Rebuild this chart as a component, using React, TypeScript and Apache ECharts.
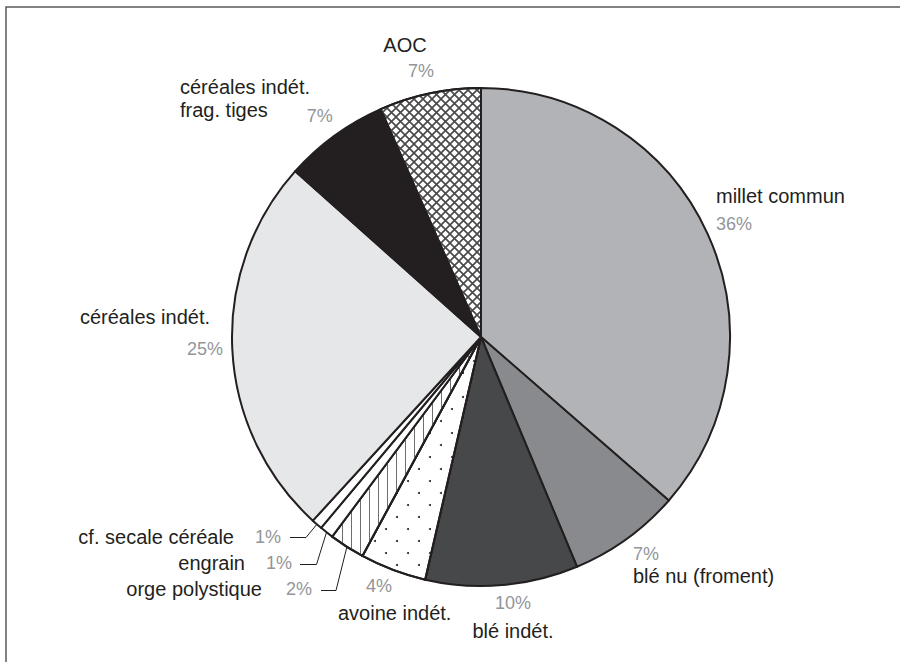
import React, { useEffect, useRef } from 'react';
import * as echarts from 'echarts';

// ---- data ----
const categories = [
  'millet commun',
  'blé nu (froment)',
  'blé indét.',
  'avoine indét.',
  'orge polystique',
  'engrain',
  'cf. secale céréale',
  'céréales indét.',
  'céréales indét.\nfrag. tiges',
  'AOC',
];
const values = [36.4, 7.3, 9.9, 4.3, 2.3, 0.9, 0.7, 24.8, 6.8, 6.6];

// ---- styles ----
const FILLS = ['#b1b3b6', '#898a8d', '#474849', '#ffffff', '#ffffff', '#ffffff', '#ffffff', '#e6e7e8', '#231f20', '#ffffff'];

const DOTS = {
  symbol: 'circle',
  symbolSize: 1,
  color: '#231f20',
  dashArrayX: [[2, 20], [0, 11, 2, 9]],
  dashArrayY: [2, 10],
  rotation: 0,
};
const VLINES = {
  symbol: 'rect',
  symbolSize: 1,
  color: '#6d6e71',
  dashArrayX: [1, 8],
  dashArrayY: [4, 0],
  rotation: 0,
};
const CROSS = {
  symbol: 'path://M0,0L1.1,0L8.4,7.3L8.4,8.4L7.3,8.4L0,1.1Z M7.3,0L8.4,0L8.4,1.1L1.1,8.4L0,8.4L0,7.3Z',
  symbolSize: 1,
  symbolKeepAspect: false,
  color: '#4a4a4c',
  dashArrayX: [8.4, 0],
  dashArrayY: [8.4, 0],
  rotation: 0,
};
const DECALS: any[] = [null, null, null, DOTS, VLINES, null, null, null, null, CROSS];

type Spec = {
  x: number; y: number; align: 'left' | 'right' | 'center';
  mode: 'nameFirst' | 'pctFirst' | 'inline' | 'inlineLast';
  lh: number; namePad?: number[]; pctPad?: number[]; line?: number[][];
};
const LABELS: Spec[] = [
  { x: 716, y: 210, align: 'left', mode: 'nameFirst', lh: 28 },
  { x: 633, y: 565, align: 'left', mode: 'pctFirst', lh: 22.5 },
  { x: 513, y: 617, align: 'center', mode: 'pctFirst', lh: 28 },
  { x: 338, y: 599.5, align: 'left', mode: 'pctFirst', lh: 27, pctPad: [0, 0, 0, 28] },
  { x: 312, y: 589, align: 'right', mode: 'inline', lh: 24, pctPad: [0, 0, 0, 24], line: [[336, 590.5], [321, 590.5]] },
  { x: 292, y: 563, align: 'right', mode: 'inline', lh: 24, pctPad: [0, 0, 0, 21], line: [[316.5, 564.5], [300, 564.5]] },
  { x: 281, y: 537, align: 'right', mode: 'inline', lh: 24, pctPad: [0, 0, 0, 21], line: [[306, 537.5], [290, 537.5]] },
  { x: 223, y: 333, align: 'right', mode: 'nameFirst', lh: 32, namePad: [0, 13, 0, 0] },
  { x: 180, y: 98.5, align: 'left', mode: 'inlineLast', lh: 23, pctPad: [12, 0, 0, 39] },
  { x: 405, y: 58, align: 'center', mode: 'nameFirst', lh: 26, pctPad: [0, 0, 0, 32] },
];

const NAME_FONT = '"Liberation Sans", Arial, sans-serif';
const PCT_FONT = '"Liberation Sans", Arial, sans-serif';
const CX = 481;
const CY = 337;
const R = 249;

function buildFormatter(spec: Spec) {
  return (p: any) => {
    const pct = `{p|${Math.round(p.percent)}%}`;
    const nameLines = String(p.name).split('\n').map((s) => `{n|${s}}`);
    switch (spec.mode) {
      case 'nameFirst':
        return nameLines.join('\n') + '\n' + pct;
      case 'pctFirst':
        return pct + '\n' + nameLines.join('\n');
      case 'inline':
      case 'inlineLast':
      default:
        return nameLines.join('\n') + pct;
    }
  };
}

export default function App() {
  const ref = useRef<HTMLDivElement>(null);
  useEffect(() => {
    if (!ref.current) return;
    const chart = echarts.init(ref.current, undefined, { renderer: 'svg' });
    const data = categories.map((name, i) => {
      const spec = LABELS[i];
      const item: any = {
        name,
        value: values[i],
        itemStyle: { color: FILLS[i] },
        label: {
          formatter: buildFormatter(spec),
          rich: {
            n: {
              fontFamily: NAME_FONT,
              fontSize: 20,
              color: '#231f20',
              lineHeight: spec.lh,
              padding: spec.namePad || [0, 0, 0, 0],
            },
            p: {
              fontFamily: PCT_FONT,
              fontSize: 18,
              color: '#939598',
              lineHeight: spec.lh,
              padding: spec.pctPad || [0, 0, 0, 0],
            },
          },
        },
        labelLine: spec.line
          ? { show: true, length: 10, length2: 10, smooth: false, lineStyle: { color: '#231f20', width: 1 } }
          : { show: false },
      };
      if (DECALS[i]) item.itemStyle.decal = DECALS[i];
      return item;
    });

    const option: any = {
      animation: false,
      backgroundColor: '#ffffff',
      graphic: [
        {
          type: 'rect',
          silent: true,
          z: -10,
          shape: { x: 6, y: 7, width: 1000, height: 1000 },
          style: { fill: 'none', stroke: '#58595b', lineWidth: 1.5 },
        },
      ],
      series: [
        {
          type: 'pie',
          center: [CX, CY],
          radius: [0, R],
          startAngle: 90,
          clockwise: true,
          silent: true,
          avoidLabelOverlap: false,
          emphasis: { disabled: true },
          itemStyle: { borderColor: '#231f20', borderWidth: 2 },
          label: { show: true, position: 'outside', alignTo: 'none' },
          labelLayout: (params: any) => {
            const spec = LABELS[params.dataIndex];
            const res: any = { x: spec.x, y: spec.y, align: spec.align, verticalAlign: 'middle' };
            if (spec.line) {
              let start: number[];
              const pts = params.labelLinePoints;
              if (pts && pts[0]) {
                start = [pts[0][0], pts[0][1]];
              } else {
                const total = values.reduce((a, b) => a + b, 0);
                let cum = 0;
                for (let k = 0; k < params.dataIndex; k++) cum += values[k];
                const th = ((cum + values[params.dataIndex] / 2) / total) * Math.PI * 2;
                start = [CX + R * Math.sin(th), CY - R * Math.cos(th)];
              }
              res.labelLinePoints = [start, spec.line[0], spec.line[1]];
            }
            return res;
          },
          data,
        },
      ],
    };
    chart.setOption(option);
    return () => chart.dispose();
  }, []);
  return (
    <div
      ref={ref}
      style={{ position: 'fixed', left: 0, top: 0, width: 900, height: 662 }}
    />
  );
}
